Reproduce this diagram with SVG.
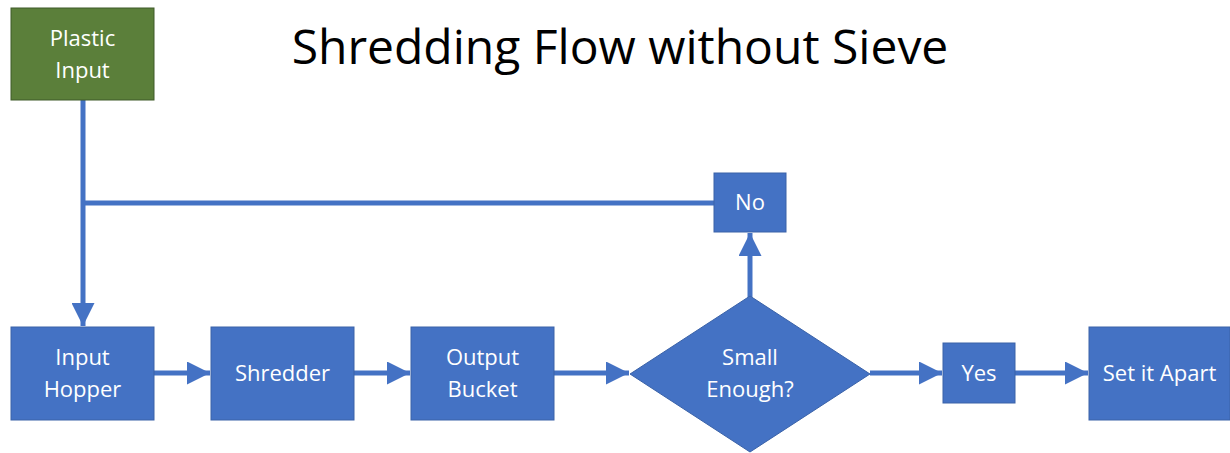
<svg xmlns="http://www.w3.org/2000/svg" width="1230" height="453" viewBox="0 0 1230 453">
<defs>
<style>
.box{fill:#4472C4;stroke:#3A62A8;stroke-width:1}
.lbl{font-family:"Open Sans","Liberation Sans",sans-serif;font-size:22px;fill:#fff;text-anchor:middle}
.ln{stroke:#4472C4;stroke-width:5;fill:none}
.title{font-family:"Open Sans","Liberation Sans",sans-serif;font-size:48px;fill:#000;text-anchor:middle}
</style>
<marker id="ah" viewBox="0 0 10 10" refX="10" refY="5" markerWidth="5" markerHeight="4.6" orient="auto" markerUnits="strokeWidth">
<path d="M0,0 L10,5 L0,10 Z" fill="#4472C4"/>
</marker>
</defs>
<rect width="1230" height="453" fill="#fff"/>
<text class="title" x="620" y="64">Shredding Flow without Sieve</text>
<g id="connectors">
<path class="ln" d="M83,100 V326" marker-end="url(#ah)"/>
<path class="ln" d="M83,203 H714"/>
<path class="ln" d="M750,297 V233" marker-end="url(#ah)"/>
<path class="ln" d="M154,373 H210" marker-end="url(#ah)"/>
<path class="ln" d="M354,373 H410" marker-end="url(#ah)"/>
<path class="ln" d="M554,373 H629" marker-end="url(#ah)"/>
<path class="ln" d="M870,373 H942" marker-end="url(#ah)"/>
<path class="ln" d="M1015,373 H1088" marker-end="url(#ah)"/>
</g>
<g id="plastic-input">
<rect x="11" y="8" width="143" height="92" fill="#5B7F3A" stroke="#3F5A28" stroke-width="1"/>
<text class="lbl" x="82.5" y="46">Plastic</text>
<text class="lbl" x="82.5" y="78">Input</text>
</g>
<g id="no">
<rect class="box" x="714" y="173" width="72" height="59"/>
<text class="lbl" x="750" y="210">No</text>
</g>
<g id="input-hopper">
<rect class="box" x="11" y="327" width="143" height="93"/>
<text class="lbl" x="82.5" y="365">Input</text>
<text class="lbl" x="82.5" y="397">Hopper</text>
</g>
<g id="shredder">
<rect class="box" x="211" y="327" width="143" height="93"/>
<text class="lbl" x="282.5" y="381">Shredder</text>
</g>
<g id="output-bucket">
<rect class="box" x="411" y="327" width="143" height="93"/>
<text class="lbl" x="482.5" y="365">Output</text>
<text class="lbl" x="482.5" y="397">Bucket</text>
</g>
<g id="small-enough">
<polygon class="box" points="750,296 870,374 750,452 630,374"/>
<text class="lbl" x="750" y="365">Small</text>
<text class="lbl" x="750" y="397">Enough?</text>
</g>
<g id="yes">
<rect class="box" x="943" y="343" width="72" height="60"/>
<text class="lbl" x="979" y="381">Yes</text>
</g>
<g id="set-it-apart">
<rect class="box" x="1089" y="327" width="141" height="93"/>
<text class="lbl" x="1159.5" y="381">Set it Apart</text>
</g>
</svg>
